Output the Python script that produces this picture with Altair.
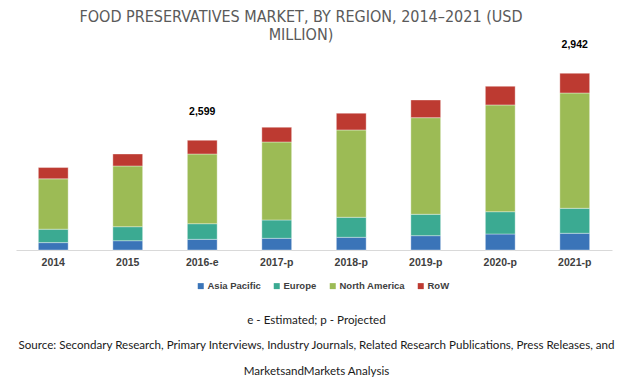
import altair as alt
import pandas as pd

categories = ["2014", "2015", "2016-e", "2017-p", "2018-p", "2019-p", "2020-p", "2021-p"]
regions = ["Asia Pacific", "Europe", "North America", "RoW"]
asia_pacific = [175, 220, 253, 277, 301, 339, 379, 396]
europe = [318, 332, 370, 434, 474, 507, 528, 592]
north_america = [1192, 1438, 1651, 1848, 2068, 2288, 2528, 2731]
row_values = [268, 284, 325, 348, 396, 419, 443, 467]
total_labels = ["", "", "2,599", "", "", "", "", "2,942"]
colors = ["#3A74B8", "#3BAA92", "#9CBB55", "#BD3A31"]

title_lines = ["FOOD PRESERVATIVES MARKET, BY REGION, 2014\u20132021 (USD", "MILLION)"]
footnotes = [
    "e - Estimated; p - Projected",
    "Source: Secondary Research, Primary Interviews, Industry Journals, Related Research Publications, Press Releases, and",
    "MarketsandMarkets Analysis",
]

series = [asia_pacific, europe, north_america, row_values]
records = []
for ri, (reg, vals) in enumerate(zip(regions, series)):
    for cat, v in zip(categories, vals):
        records.append({"category": cat, "region": reg, "idx": ri, "value": v})
df = pd.DataFrame(records)

totals = [sum(s[i] for s in series) for i in range(len(categories))]
lab_df = pd.DataFrame({"category": categories, "total": totals, "label": total_labels})
lab_df = lab_df[lab_df["label"] != ""]

x_enc = alt.X(
    "category:N",
    sort=categories,
    scale=alt.Scale(paddingInner=0.6, paddingOuter=0.3),
    axis=alt.Axis(
        title=footnotes,
        titleFont="Lato",
        titleFontSize=11.6,
        titleFontWeight="normal",
        titleColor="#1a1a1a",
        titleLineHeight=25.5,
        titleBaseline="top",
        titleY=64,
        titleX=300,
        titleAnchor="middle",
        labelAngle=0,
        labelFont="Liberation Sans",
        labelFontWeight="bold",
        labelFontSize=10.5,
        labelColor="#404040",
        labelPadding=7,
        ticks=False,
        domainColor="#d9d9d9",
        domainWidth=1,
        grid=False,
    ),
)

bars = alt.Chart(df).mark_bar(stroke="#ffffff", strokeWidth=0.6, strokeOpacity=0.6).encode(
    x=x_enc,
    y=alt.Y("value:Q", stack="zero", scale=alt.Scale(domain=[0, 4500], nice=False), axis=None),
    color=alt.Color(
        "region:N",
        sort=regions,
        scale=alt.Scale(domain=regions, range=colors),
        legend=alt.Legend(
            title=None,
            orient="none",
            direction="horizontal",
            legendX=180,
            legendY=221,
            symbolType="square",
            symbolSize=36,
            symbolStrokeWidth=0,
            labelFont="Liberation Sans",
            labelFontWeight="bold",
            labelFontSize=9.5,
            labelColor="#404040",
            labelOffset=2,
            columnPadding=11,
        ),
    ),
    order=alt.Order("idx:Q", sort="ascending"),
)

labels = alt.Chart(lab_df).mark_text(
    dy=-28, font="Liberation Sans", fontWeight="bold", fontSize=10.5, color="#000000"
).encode(
    x=x_enc,
    y=alt.Y("total:Q"),
    text="label:N",
)

chart = alt.layer(bars, labels).properties(
    width=596,
    height=190,
    autosize=alt.AutoSizeParams(type="none"),
    padding={"left": 8, "top": 52, "right": 18, "bottom": 128},
    title=alt.TitleParams(
        text=title_lines,
        font="Liberation Sans Narrow, Arial Narrow, DejaVu Sans Condensed, sans-serif",
        fontSize=16,
        fontWeight="normal",
        color="#5a5a5a",
        anchor="middle",
        frame="group",
        dx=-13,
        dy=20,
        offset=17,
        lineHeight=18,
    ),
).configure_view(strokeWidth=0)

chart.save("out.html", embed_options={"renderer": "svg", "actions": False})
